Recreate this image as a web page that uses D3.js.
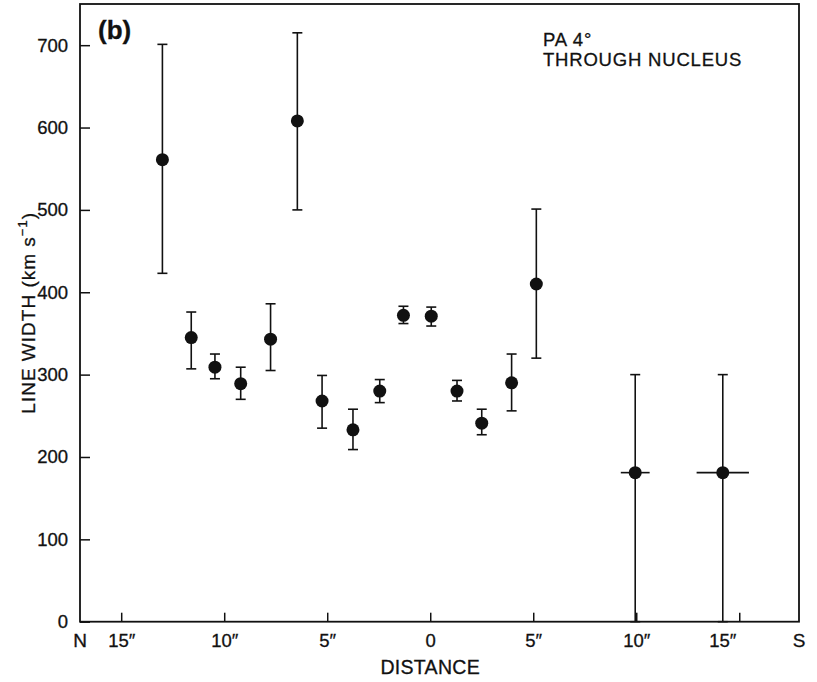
<!DOCTYPE html>
<html lang="en">
<head>
    <meta charset="UTF-8">
    <title>Line width along PA 4°</title>
    <script src="https://d3js.org/d3.v7.min.js"></script>
    <style>
        body { margin: 0; background: #fff; }
        text { font-family: "Liberation Sans", Arial, Helvetica, sans-serif; fill: #111; stroke: #111; stroke-width: 0.3px; }
    </style>
</head>
<body>

<div id="chart"></div>

<script>
    // Offsets along the slit (arcsec, N negative / S positive)
    const distance = [-13.0, -11.6, -10.45, -9.2, -7.75, -6.45, -5.25, -3.75, -2.45, -1.3, 0.05, 1.3, 2.5, 3.95, 5.15, 9.95, 14.2];
    // Line width (km/s) and its error range
    const lineWidth = [561, 345, 309, 289, 343, 608, 268, 233, 280, 372, 371, 280, 241, 290, 410, 181, 181];
    const errLow  = [423, 307, 295, 270, 305, 500, 235, 209, 266, 362, 359, 268, 227, 256, 320, 0, 0];
    const errHigh = [701, 376, 325, 309, 386, 715, 299, 258, 294, 383, 382, 293, 258, 325, 501, 300, 300];
    // horizontal error (arcsec), only for the binned outer points
    const xErr = [0, 0, 0, 0, 0, 0, 0, 0, 0, 0, 0, 0, 0, 0, 0, 0.7, 1.27];

    const xTicks = [-15, -10, -5, 0, 5, 10, 15];
    const yTicks = [0, 100, 200, 300, 400, 500, 600, 700];

    const width = 817;
    const height = 682;
    const plotLeft = 80, plotRight = 799, plotTop = 4, plotBottom = 621.7;

    const points = distance.map((d, i) => ({
        x: d, y: lineWidth[i], lo: errLow[i], hi: errHigh[i], xe: xErr[i]
    }));

    const x = d3.scaleLinear().domain([-17, 17.9]).range([plotLeft, plotRight]);
    const y = d3.scaleLinear().domain([0, 750]).range([plotBottom, plotTop]);

    const svg = d3.select("#chart")
        .append("svg")
        .attr("width", width)
        .attr("height", height);

    // frame
    svg.append("rect")
        .attr("x", plotLeft).attr("y", plotTop)
        .attr("width", plotRight - plotLeft).attr("height", plotBottom - plotTop)
        .attr("fill", "none")
        .attr("stroke", "#111")
        .attr("stroke-width", 1.8);

    // y axis, ticks pointing inwards
    const yAxis = svg.append("g")
        .attr("transform", `translate(${plotLeft},0)`)
        .call(d3.axisLeft(y).tickValues(yTicks).tickSizeInner(-10).tickSizeOuter(0).tickPadding(12));
    yAxis.select(".domain").remove();
    yAxis.selectAll("line").attr("stroke", "#111").attr("stroke-width", 1.5);
    yAxis.selectAll("text")
        .style("font-size", "18.5px")
        .style("font-family", "'Liberation Sans', Arial, sans-serif")
        .attr("fill", "#111");

    // x axis, ticks pointing inwards
    const xAxis = svg.append("g")
        .attr("transform", `translate(0,${plotBottom})`)
        .call(d3.axisBottom(x).tickValues(xTicks).tickSizeInner(-9).tickSizeOuter(0).tickPadding(12)
            .tickFormat(d => d === 0 ? "0" : Math.abs(d) + "\u2033"));
    xAxis.select(".domain").remove();
    xAxis.selectAll("line").attr("stroke", "#111").attr("stroke-width", 1.5);
    xAxis.selectAll("text")
        .style("font-size", "18.5px")
        .style("font-family", "'Liberation Sans', Arial, sans-serif")
        .attr("fill", "#111")
        .attr("dx", d => d === 15 ? -17 : 0);

    // N / S at the ends of the axis
    svg.selectAll(".ns")
        .data([{ t: "N", v: -17 }, { t: "S", v: 17.9 }])
        .enter()
        .append("text")
        .attr("class", "ns")
        .attr("x", d => x(d.v))
        .attr("y", plotBottom + 12)
        .attr("dy", "0.71em")
        .attr("text-anchor", "middle")
        .style("font-size", "19px")
        .text(d => d.t);

    // axis titles
    svg.append("text")
        .attr("x", x(0))
        .attr("y", 674)
        .attr("text-anchor", "middle")
        .style("font-size", "19.5px")
        .style("letter-spacing", "0.3px")
        .text("DISTANCE");

    const yTitle = svg.append("text")
        .attr("transform", `translate(35,${(plotTop + plotBottom) / 2}) rotate(-90)`)
        .attr("text-anchor", "middle")
        .style("font-size", "19px")
        .style("letter-spacing", "1px");
    yTitle.append("tspan").text("LINE WIDTH (km s");
    yTitle.append("tspan").attr("dy", -8).style("font-size", "13px").text("\u22121");
    yTitle.append("tspan").attr("dy", 8).text(")");

    // panel label and annotation
    svg.append("text")
        .attr("x", 98).attr("y", 39)
        .style("font-size", "26px")
        .style("font-weight", "bold")
        .text("(b)");

    svg.append("text")
        .attr("x", 543).attr("y", 46)
        .style("font-size", "18.5px")
        .style("letter-spacing", "0.8px")
        .text("PA 4\u00b0");
    svg.append("text")
        .attr("x", 543).attr("y", 65.5)
        .style("font-size", "18.5px")
        .style("letter-spacing", "0.8px")
        .text("THROUGH NUCLEUS");

    // error bars
    const cap = 5;
    const bars = svg.append("g")
        .attr("stroke", "#111")
        .attr("stroke-width", 1.6);

    bars.selectAll(".v")
        .data(points)
        .enter()
        .append("line")
        .attr("x1", d => x(d.x)).attr("x2", d => x(d.x))
        .attr("y1", d => y(d.lo)).attr("y2", d => y(d.hi));

    bars.selectAll(".capHi")
        .data(points)
        .enter()
        .append("line")
        .attr("x1", d => x(d.x) - cap).attr("x2", d => x(d.x) + cap)
        .attr("y1", d => y(d.hi)).attr("y2", d => y(d.hi));

    bars.selectAll(".capLo")
        .data(points)
        .enter()
        .append("line")
        .attr("x1", d => x(d.x) - cap).attr("x2", d => x(d.x) + cap)
        .attr("y1", d => y(d.lo)).attr("y2", d => y(d.lo));

    bars.selectAll(".h")
        .data(points.filter(d => d.xe > 0))
        .enter()
        .append("line")
        .attr("x1", d => x(d.x - d.xe)).attr("x2", d => x(d.x + d.xe))
        .attr("y1", d => y(d.y)).attr("y2", d => y(d.y));

    // data points
    svg.selectAll("circle")
        .data(points)
        .enter()
        .append("circle")
        .attr("cx", d => x(d.x))
        .attr("cy", d => y(d.y))
        .attr("r", 6.5)
        .attr("fill", "#111");
</script>

</body>
</html>
